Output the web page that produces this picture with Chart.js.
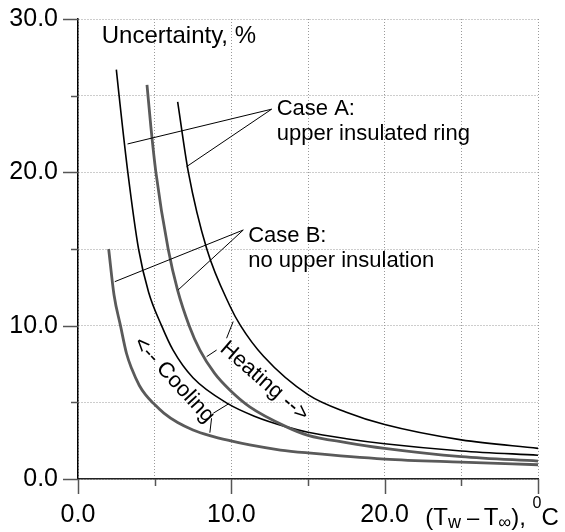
<!DOCTYPE html>
<html>
<head>
<meta charset="utf-8">
<script src="https://cdn.jsdelivr.net/npm/chart.js@4.4.1/dist/chart.umd.min.js"></script>
<style>
  html, body { margin: 0; padding: 0; background: #fff; }
  canvas { display: block; }
</style>
</head>
<body>
<canvas id="uncChart" width="565" height="532"></canvas>
<script>
// (Tw - Tinf), degC  ->  uncertainty, %
// Case A (upper insulated ring), black
const caseA1X = [2.5, 2.68, 3.25, 3.95, 4.6, 5.45, 6.2, 7.5, 9.8, 11.5, 13.6, 15, 17.5, 20, 25, 30];
const caseA1Y = [26.7, 25.0, 20.0, 15.0, 12.2, 10.0, 8.4, 6.6, 4.9, 4.1, 3.4, 3.05, 2.63, 2.3, 1.83, 1.55];
const caseA2X = [6.5, 7.2, 8.4, 9.9, 10.6, 12.1, 15, 17.5, 20, 25, 30];
const caseA2Y = [24.6, 20.0, 15.0, 11.3, 10.0, 8.0, 5.5, 4.35, 3.55, 2.55, 2.0];
// Case B (no upper insulation), grey
const caseB1X = [2.0, 2.35, 2.77, 3.16, 3.5, 4.0, 4.4, 4.9, 5.6, 6.5, 7.5, 8.6, 9.9, 11.2, 13.2, 15, 20, 25, 30];
const caseB1Y = [15.0, 12.0, 10.0, 8.2, 7.2, 6.1, 5.5, 4.95, 4.3, 3.68, 3.2, 2.83, 2.5, 2.22, 1.89, 1.7, 1.3, 1.1, 0.93];
const caseB2X = [4.5, 4.75, 5.08, 5.88, 6.5, 7.25, 7.95, 8.9, 9.9, 11.2, 13.6, 15, 17.5, 20, 25, 30];
const caseB2Y = [25.7, 23.0, 20.0, 15.0, 12.3, 10.0, 8.4, 6.9, 5.8, 4.7, 3.4, 2.85, 2.38, 2.0, 1.46, 1.17];

const xTickValues = [0, 10, 20];
const xTickLabels = ['0.0', '10.0', '20.0'];
const yTickValues = [0, 10, 20, 30];
const yTickLabels = ['0.0', '10.0', '20.0', '30.0'];

const FONT = '"Liberation Sans", Arial, sans-serif';
const BLACK = '#000';
const GREY = '#5a5a5a';

function pts(xs, ys) {
  return xs.map((v, i) => ({ x: v, y: ys[i] }));
}

function curve(xs, ys, color, width) {
  return {
    data: pts(xs, ys),
    showLine: true,
    borderColor: color,
    borderWidth: width,
    pointRadius: 0,
    cubicInterpolationMode: 'monotone',
    fill: false
  };
}

// annotation text and leader lines, in data units
const leaders = [
  [[12.63, 24.12], [3.23, 21.85]],
  [[12.63, 24.12], [7.08, 20.37]],
  [[10.78, 16.24], [2.40, 12.87]],
  [[10.78, 16.24], [6.53, 12.33]],
  [[9.69, 9.18], [10.12, 10.27]],
  [[8.39, 7.98], [9.04, 8.41]],
  [[9.80, 4.89], [8.82, 4.29]],
  [[8.71, 3.96], [8.60, 3.02]]
];

const decor = {
  id: 'decor',
  afterDraw(chart) {
    const { ctx, chartArea: area } = chart;
    const sx = chart.scales.x, sy = chart.scales.y;
    const P = (a, b) => [sx.getPixelForValue(a), sy.getPixelForValue(b)];
    ctx.save();

    // axis tick marks (long at 10s, short at 5s)
    ctx.strokeStyle = '#555';
    ctx.lineWidth = 1.5;
    for (let v = 0; v <= 30; v += 5) {
      const len = v % 10 === 0 ? 15 : 7;
      const py = Math.round(sy.getPixelForValue(v)) + 0.5;
      ctx.beginPath(); ctx.moveTo(area.left - len, py); ctx.lineTo(area.left, py); ctx.stroke();
      const px = Math.round(sx.getPixelForValue(v)) + 0.5;
      ctx.beginPath(); ctx.moveTo(px, area.bottom); ctx.lineTo(px, area.bottom + len); ctx.stroke();
    }

    // leader lines
    ctx.strokeStyle = BLACK;
    ctx.lineWidth = 1;
    leaders.forEach(([a, b]) => {
      const p1 = P(a[0], a[1]), p2 = P(b[0], b[1]);
      ctx.beginPath(); ctx.moveTo(p1[0], p1[1]); ctx.lineTo(p2[0], p2[1]); ctx.stroke();
    });

    ctx.fillStyle = BLACK;
    ctx.textAlign = 'left';
    ctx.textBaseline = 'alphabetic';

    ctx.font = '24px ' + FONT;
    let p = P(1.55, 28.44);
    ctx.fillText('Uncertainty, %', p[0], p[1]);

    ctx.font = '22px ' + FONT;
    p = P(12.96, 23.74); ctx.fillText('Case A:', p[0], p[1]);
    p = P(12.96, 22.11); ctx.fillText('upper insulated ring', p[0], p[1]);
    p = P(11.1, 15.48); ctx.fillText('Case B:', p[0], p[1]);
    p = P(11.1, 13.85); ctx.fillText('no upper insulation', p[0], p[1]);

    // rotated labels
    ctx.textAlign = 'center';
    ctx.textBaseline = 'middle';
    p = P(6.25, 6.46);
    ctx.save(); ctx.translate(p[0], p[1]); ctx.rotate(47 * Math.PI / 180);
    ctx.fillText('<-- Cooling', 0, 0); ctx.restore();
    p = P(12.15, 6.35);
    ctx.save(); ctx.translate(p[0], p[1]); ctx.rotate(41 * Math.PI / 180);
    ctx.fillText('Heating -->', 0, 0); ctx.restore();

    // x axis title (Tw - Tinf), 0C
    ctx.textAlign = 'left';
    ctx.textBaseline = 'alphabetic';
    const parts = [
      ['(T', 24, 0], ['w', 18, 3], [' \u2013\u2009', 22, 0], ['T', 24, 0], ['\u221e', 18, 3],
      ['), ', 24, 0], ['0', 16, -17], ['C', 24, 0]
    ];
    let tx = sx.getPixelForValue(22.65);
    const base = area.bottom + 46;
    parts.forEach(([t, size, dy]) => {
      ctx.font = size + 'px ' + FONT;
      ctx.fillText(t, tx, base + dy);
      tx += ctx.measureText(t).width;
    });

    ctx.restore();
  }
};

new Chart(document.getElementById('uncChart'), {
  type: 'scatter',
  data: {
    datasets: [
      curve(caseB1X, caseB1Y, GREY, 2.8),
      curve(caseB2X, caseB2Y, GREY, 2.8),
      curve(caseA1X, caseA1Y, BLACK, 1.6),
      curve(caseA2X, caseA2Y, BLACK, 1.6)
    ]
  },
  options: {
    responsive: false,
    animation: false,
    devicePixelRatio: 1,
    layout: { padding: { left: 0, top: 19, right: 27, bottom: 0 } },
    plugins: { legend: { display: false }, tooltip: { enabled: false } },
    scales: {
      x: {
        type: 'linear',
        min: 0, max: 30,
        afterFit: s => { s.height = 53; s.paddingLeft = 0; s.paddingRight = 0; },
        ticks: {
          stepSize: 5,
          color: BLACK,
          padding: 21,
          maxRotation: 0,
          autoSkip: false,
          font: { size: 25, family: FONT },
          callback: v => {
            const i = xTickValues.indexOf(v);
            return i >= 0 ? xTickLabels[i] : '';
          }
        },
        grid: { color: '#9a9a9a', lineWidth: 1, drawTicks: false },
        border: { color: '#222', width: 1.5, dash: [1, 2] }
      },
      y: {
        type: 'linear',
        min: 0, max: 30,
        afterFit: s => { s.width = 78; s.paddingTop = 0; s.paddingBottom = 0; },
        ticks: {
          stepSize: 5,
          color: BLACK,
          padding: 20,
          font: { size: 25, family: FONT },
          callback: v => {
            const i = yTickValues.indexOf(v);
            return i >= 0 ? yTickLabels[i] : '';
          }
        },
        grid: { color: '#9a9a9a', lineWidth: 1, drawTicks: false },
        border: { color: '#000', width: 1.5, dash: [1, 2] }
      }
    }
  },
  plugins: [decor]
});
</script>
</body>
</html>
